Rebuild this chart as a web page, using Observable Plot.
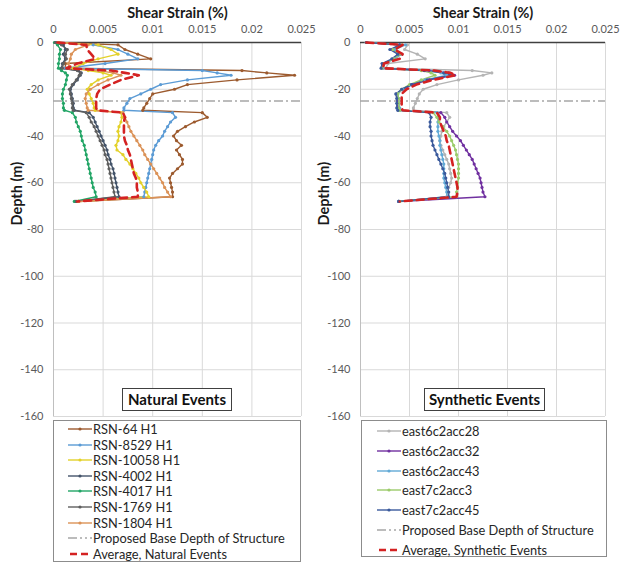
<!DOCTYPE html>
<html><head><meta charset="utf-8">
<script src="https://cdn.jsdelivr.net/npm/d3@7"></script>
<script src="https://cdn.jsdelivr.net/npm/@observablehq/plot@0.6"></script>
<style>
body{margin:0;background:#fff;font-family:Lato,"Open Sans",sans-serif;}
#wrap{position:relative;width:620px;height:563px;overflow:hidden;}
.panel{position:absolute;top:0;}
.panel svg{overflow:visible;}
.tag{position:absolute;top:388px;height:23px;box-sizing:border-box;border:1px solid #404040;background:#fff;font-weight:bold;font-size:15px;color:#111;line-height:21px;text-align:center;white-space:nowrap;}
.legend{position:absolute;top:420px;box-sizing:border-box;border:1px solid #8c8c8c;background:#fff;font-size:12.8px;color:#262626;}
.row{position:absolute;left:0;display:flex;align-items:center;white-space:nowrap;}
.row svg{display:block;margin-right:1px;}
</style></head>
<body><div id="wrap"></div>
<script>
// ---------- data ----------
const depths = [0,-1,-3,-5,-7,-9,-11,-12,-13,-14,-16,-18,-20,-22,-24,-26,-28,-29,-30,-32,-34,-36,-38,-40,-42,-44,-46,-48,-50,-52,-54,-56,-58,-60,-62,-64,-66,-68];
const baseDepth = -25;
const xTicks = [0,0.005,0.01,0.015,0.02,0.025];
const yTicks = [0,-20,-40,-60,-80,-100,-120,-140,-160];

const naturalNames = ["RSN-64 H1","RSN-8529 H1","RSN-10058 H1","RSN-4002 H1","RSN-4017 H1","RSN-1769 H1","RSN-1804 H1"];
const rsn64    = [0.0005,0.0065,0.0072,0.0085,0.0098,0.0012,0.0012,0.0190,0.0215,0.0243,0.0185,0.0135,0.0122,0.0100,0.0097,0.0094,0.0091,0.0090,0.0150,0.0155,0.0142,0.0133,0.0125,0.0121,0.0124,0.0129,0.0124,0.0127,0.0130,0.0130,0.0125,0.0120,0.0117,0.0118,0.0119,0.0120,0.0120,0.0025];
const rsn8529  = [0.0003,0.0040,0.0065,0.0075,0.0085,0.0052,0.0012,0.0150,0.0165,0.0179,0.0135,0.0108,0.0098,0.0088,0.0077,0.0074,0.0071,0.0071,0.0120,0.0123,0.0118,0.0115,0.0112,0.0110,0.0106,0.0103,0.0101,0.0100,0.0099,0.0098,0.0097,0.0096,0.0095,0.0094,0.0093,0.0092,0.0091,0.0024];
const rsn10058 = [0.0005,0.0045,0.0058,0.0065,0.0045,0.0030,0.0020,0.0035,0.0050,0.0058,0.0045,0.0038,0.0034,0.0036,0.0038,0.0040,0.0041,0.0042,0.0068,0.0069,0.0068,0.0066,0.0065,0.0066,0.0065,0.0063,0.0064,0.0070,0.0073,0.0077,0.0080,0.0083,0.0086,0.0088,0.0091,0.0094,0.0096,0.0025];
const rsn4002  = [0.0002,0.0010,0.0012,0.0010,0.0012,0.0009,0.0008,0.0025,0.0028,0.0027,0.0024,0.0020,0.0017,0.0018,0.0019,0.0020,0.0020,0.0021,0.0036,0.0040,0.0042,0.0044,0.0046,0.0048,0.0050,0.0052,0.0054,0.0055,0.0057,0.0058,0.0060,0.0061,0.0062,0.0063,0.0064,0.0065,0.0066,0.0022];
const rsn4017  = [0.0001,0.0004,0.0007,0.0006,0.0006,0.0005,0.0005,0.0008,0.0012,0.0014,0.0013,0.0012,0.0010,0.0009,0.0009,0.0010,0.0010,0.0011,0.0019,0.0022,0.0023,0.0025,0.0027,0.0028,0.0029,0.0031,0.0032,0.0033,0.0034,0.0035,0.0036,0.0037,0.0038,0.0039,0.0040,0.0042,0.0043,0.0021];
const rsn1769  = [0.0002,0.0008,0.0014,0.0012,0.0013,0.0010,0.0009,0.0024,0.0027,0.0026,0.0023,0.0019,0.0016,0.0017,0.0018,0.0019,0.0019,0.0020,0.0033,0.0036,0.0038,0.0041,0.0043,0.0045,0.0047,0.0049,0.0051,0.0052,0.0054,0.0055,0.0056,0.0057,0.0058,0.0059,0.0060,0.0061,0.0062,0.0023];
const rsn1804  = [0.0005,0.0035,0.0022,0.0018,0.0017,0.0015,0.0016,0.0045,0.0060,0.0068,0.0055,0.0045,0.0037,0.0033,0.0032,0.0033,0.0034,0.0035,0.0070,0.0072,0.0074,0.0076,0.0078,0.0081,0.0084,0.0087,0.0090,0.0092,0.0095,0.0098,0.0101,0.0104,0.0107,0.0110,0.0112,0.0115,0.0118,0.0025];
const avgNatural = [0.0004,0.0033,0.0034,0.0038,0.0042,0.0024,0.0013,0.0058,0.0072,0.0086,0.0068,0.0057,0.0047,0.0044,0.0043,0.0043,0.0043,0.0044,0.0070,0.0072,0.0071,0.0071,0.0071,0.0071,0.0072,0.0074,0.0075,0.0077,0.0078,0.0079,0.0080,0.0081,0.0083,0.0084,0.0084,0.0085,0.0085,0.0024];

const syntheticNames = ["east6c2acc28","east6c2acc32","east6c2acc43","east7c2acc3","east7c2acc45"];
const acc28 = [0.0006,0.0048,0.0045,0.0058,0.0066,0.0028,0.0026,0.0114,0.0134,0.0125,0.0100,0.0078,0.0064,0.0060,0.0058,0.0056,0.0054,0.0054,0.0088,0.0091,0.0088,0.0085,0.0083,0.0082,0.0081,0.0082,0.0084,0.0086,0.0088,0.0090,0.0091,0.0092,0.0093,0.0092,0.0090,0.0089,0.0088,0.0039];
const acc32 = [0.0006,0.0040,0.0032,0.0040,0.0034,0.0023,0.0022,0.0070,0.0090,0.0096,0.0070,0.0053,0.0043,0.0037,0.0038,0.0038,0.0038,0.0039,0.0082,0.0086,0.0088,0.0091,0.0094,0.0098,0.0102,0.0105,0.0108,0.0111,0.0114,0.0116,0.0118,0.0120,0.0122,0.0123,0.0124,0.0125,0.0127,0.0039];
const acc43 = [0.0006,0.0046,0.0035,0.0042,0.0035,0.0024,0.0023,0.0068,0.0082,0.0088,0.0066,0.0051,0.0043,0.0038,0.0039,0.0039,0.0040,0.0040,0.0078,0.0080,0.0079,0.0079,0.0079,0.0080,0.0081,0.0081,0.0082,0.0083,0.0084,0.0085,0.0085,0.0085,0.0085,0.0086,0.0087,0.0088,0.0088,0.0039];
const acc3  = [0.0006,0.0042,0.0033,0.0040,0.0034,0.0023,0.0022,0.0062,0.0072,0.0076,0.0062,0.0050,0.0042,0.0038,0.0039,0.0039,0.0039,0.0040,0.0074,0.0078,0.0080,0.0084,0.0088,0.0091,0.0093,0.0095,0.0097,0.0098,0.0099,0.0100,0.0100,0.0100,0.0100,0.0099,0.0099,0.0098,0.0098,0.0040];
const acc45 = [0.0006,0.0040,0.0030,0.0038,0.0032,0.0022,0.0021,0.0065,0.0085,0.0092,0.0068,0.0052,0.0042,0.0036,0.0037,0.0037,0.0037,0.0038,0.0070,0.0072,0.0071,0.0071,0.0072,0.0072,0.0073,0.0074,0.0076,0.0078,0.0080,0.0082,0.0084,0.0086,0.0087,0.0088,0.0089,0.0090,0.0090,0.0039];
const avgSynthetic = [0.0006,0.0043,0.0035,0.0043,0.0040,0.0024,0.0023,0.0075,0.0092,0.0097,0.0074,0.0057,0.0047,0.0042,0.0042,0.0042,0.0042,0.0043,0.0078,0.0081,0.0081,0.0083,0.0085,0.0087,0.0088,0.0090,0.0091,0.0092,0.0093,0.0094,0.0095,0.0096,0.0097,0.0098,0.0099,0.0099,0.0098,0.0040];

const naturalColors = ["#9c5a2e","#5b9bd5","#e3d12a","#44546a","#22a566","#5f5f5f","#db9257"];
const syntheticColors = ["#b4b4b4","#7030a0","#62aad6","#9bcb6a","#3a5a9c"];
const avgColor = "#d42222";
const baseColor = "#a6a6a6";

// ---------- build ----------
const wrap = document.getElementById("wrap");
const FONT = "Lato, 'Open Sans', sans-serif";

function panel(names, arrays, avg, colors, left, mRight, tagText, tagLeft, tagWidth) {
  const rows = [];
  names.forEach((n, k) => depths.forEach((d, i) => rows.push({series: n, depth: d, strain: arrays[k][i]})));
  const avgRows = depths.map((d, i) => ({depth: d, strain: avg[i]}));
  const chart = Plot.plot({
    width: 311, height: 420,
    marginLeft: 53, marginRight: mRight, marginTop: 42, marginBottom: 4,
    style: {fontFamily: FONT, fontSize: "11px", color: "#595959", background: "transparent"},
    x: {domain: [0, 0.025], axis: null},
    y: {domain: [-160, 0], axis: null},
    color: {domain: names, range: colors},
    marks: [
      Plot.gridX(xTicks, {stroke: "#d9d9d9", strokeOpacity: 1}),
      Plot.gridY(yTicks, {stroke: "#d9d9d9", strokeOpacity: 1}),
      Plot.ruleX([0], {stroke: "#bfbfbf"}),
      Plot.ruleY([0], {stroke: "#404040", strokeWidth: 1.3}),
      Plot.ruleY([baseDepth], {stroke: baseColor, strokeWidth: 1.6, strokeDasharray: "9,3,2,3"}),
      Plot.line(rows, {x: "strain", y: "depth", z: "series", stroke: "series", strokeWidth: 1.4}),
      Plot.dot(rows, {x: "strain", y: "depth", fill: "series", r: 1.6}),
      Plot.line(avgRows, {x: "strain", y: "depth", stroke: avgColor, strokeWidth: 2.6, strokeDasharray: "7,5"}),
      Plot.axisX(xTicks, {anchor: "top", tickSize: 0, tickPadding: 10, tickFormat: d => String(d), label: null, fill: "#595959"}),
      Plot.axisY(yTicks, {anchor: "left", tickSize: 0, tickPadding: 10, tickFormat: d => String(d), label: null, fill: "#595959"}),
      Plot.text(["Shear Strain (%)"], {frameAnchor: "top", lineAnchor: "middle", dy: -29, fontWeight: "bold", fontSize: 14.5, fill: "#1a1a1a"}),
      Plot.text(["Depth (m)"], {frameAnchor: "left", lineAnchor: "middle", rotate: -90, dx: -36, dy: -4, fontWeight: "bold", fontSize: 14.5, fill: "#1a1a1a"})
    ]
  });
  const div = document.createElement("div");
  div.className = "panel";
  div.style.left = left + "px";
  div.appendChild(chart);
  wrap.appendChild(div);
  const tag = document.createElement("div");
  tag.className = "tag";
  tag.style.left = tagLeft + "px";
  tag.style.width = tagWidth + "px";
  tag.textContent = tagText;
  wrap.appendChild(tag);
}

function swatch(kind, color) {
  const ns = "http://www.w3.org/2000/svg";
  const s = document.createElementNS(ns, "svg");
  s.setAttribute("width", 24); s.setAttribute("height", 10);
  const l = document.createElementNS(ns, "line");
  l.setAttribute("x1", 0); l.setAttribute("x2", 24); l.setAttribute("y1", 5); l.setAttribute("y2", 5);
  l.setAttribute("stroke", color);
  if (kind === "series") {
    l.setAttribute("stroke-width", 1.4);
    s.appendChild(l);
    const c = document.createElementNS(ns, "circle");
    c.setAttribute("cx", 12); c.setAttribute("cy", 5); c.setAttribute("r", 1.6); c.setAttribute("fill", color);
    s.appendChild(c);
  } else if (kind === "base") {
    l.setAttribute("stroke-width", 1.6); l.setAttribute("stroke-dasharray", "9,3,2,3,2,3");
    s.appendChild(l);
  } else {
    l.setAttribute("stroke-width", 2.6); l.setAttribute("stroke-dasharray", "7,4");
    l.setAttribute("x1", 2);
    s.appendChild(l);
  }
  return s;
}

function legend(names, colors, avgLabel, left, width, height, firstY, step, padLeft) {
  const box = document.createElement("div");
  box.className = "legend";
  box.style.left = left + "px"; box.style.width = width + "px"; box.style.height = height + "px";
  const items = names.map((n, i) => ["series", colors[i], n])
    .concat([["base", baseColor, "Proposed Base Depth of Structure"], ["avg", avgColor, avgLabel]]);
  items.forEach((it, i) => {
    const r = document.createElement("div");
    r.className = "row";
    r.style.left = padLeft + "px";
    r.style.top = (firstY + i * step - 420 - 8) + "px";
    r.style.height = "16px";
    r.appendChild(swatch(it[0], it[1]));
    const t = document.createElement("span");
    t.textContent = it[2];
    r.appendChild(t);
    box.appendChild(r);
  });
  wrap.appendChild(box);
}

panel(naturalNames, [rsn64, rsn8529, rsn10058, rsn4002, rsn4017, rsn1769, rsn1804], avgNatural, naturalColors, 0, 10, "Natural Events", 122, 110);
panel(syntheticNames, [acc28, acc32, acc43, acc3, acc45], avgSynthetic, syntheticColors, 307, 13, "Synthetic Events", 424, 121);
legend(naturalNames, naturalColors, "Average, Natural Events", 53, 248, 142, 428, 15.6, 14);
legend(syntheticNames, syntheticColors, "Average, Synthetic Events", 361, 246, 137, 430, 19.8, 15);
</script></body></html>
